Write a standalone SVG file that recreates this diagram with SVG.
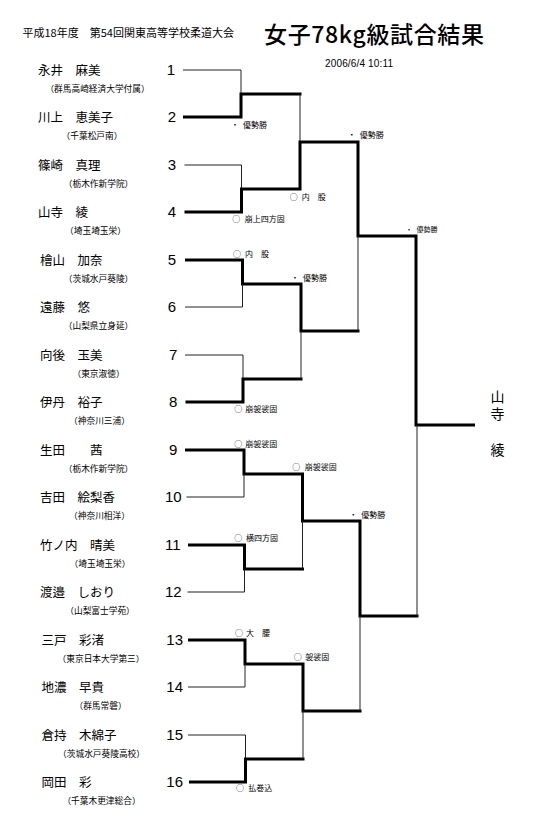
<svg xmlns="http://www.w3.org/2000/svg" width="534" height="829" viewBox="0 0 534 829">
<style>
.j{font-family:"Noto Sans CJK JP","Noto Sans CJK SC",sans-serif;fill:#000}
.nm{font-size:12.5px}
.sc{font-size:8.7px;text-anchor:middle}
.num{font-family:"Liberation Sans",Arial,sans-serif;font-size:15px;fill:#000}
.lb{font-size:8px}
.thin{fill:none;stroke:#222;stroke-width:1}
.thick{fill:none;stroke:#000;stroke-width:3;stroke-linecap:square;stroke-linejoin:miter}
</style>
<rect width="534" height="829" fill="#fff"/>
<g id="header">
<text class="j" x="22.5" y="37" font-size="11">平成18年度　第54回関東高等学校柔道大会</text>
<text class="j" x="264" y="42.5" font-size="23" font-weight="500" textLength="220" lengthAdjust="spacing">女子78kg級試合結果</text>
<text x="325" y="67" font-family="Liberation Sans,Arial,sans-serif" font-size="10" textLength="68" lengthAdjust="spacing">2006/6/4 10:11</text>
</g>
<g id="connectors">
<path class="thin" d="M183 70H241V94"/>
<path class="thick" d="M184.5 117H241V94H300"/>
<path class="thin" d="M300 94V142"/>
<path class="thin" d="M184.5 165H241.5V189"/>
<path class="thick" d="M186 212H241.5V189H300V142H358V236H416V425H473.5"/>
<path class="thick" d="M186.5 260H242.5V284H301V331H358"/>
<path class="thin" d="M358 331V236"/>
<path class="thin" d="M185 307H242.5V284"/>
<path class="thin" d="M185 355H243V379"/>
<path class="thick" d="M187 402H243V379H301"/>
<path class="thin" d="M301 379V331"/>
<path class="thick" d="M186.5 450H244V474H302.5V521H360V616H417"/>
<path class="thin" d="M417 616V425"/>
<path class="thin" d="M186.5 497H244V474"/>
<path class="thick" d="M189.5 545H244.5V569H302.5"/>
<path class="thin" d="M302.5 569V521"/>
<path class="thin" d="M187.5 592H244.5V569"/>
<path class="thick" d="M189.5 640H245V664H303V711H360"/>
<path class="thin" d="M360 711V616"/>
<path class="thin" d="M188 687H245V664"/>
<path class="thin" d="M188 735H245.5V759"/>
<path class="thick" d="M190.5 782H245.5V759H303"/>
<path class="thin" d="M303 759V711"/>
</g>
<g id="labels" class="j lb">
<text x="231" y="128">・<tspan dx="4">優勢勝</tspan></text>
<text x="232.3" y="222.3">○<tspan dx="4.5">崩上四方固</tspan></text>
<text x="233" y="257">○<tspan dx="4">内　股</tspan></text>
<text x="234.3" y="412.3">○<tspan dx="3">崩袈裟固</tspan></text>
<text x="234.3" y="447">○<tspan dx="3">崩袈裟固</tspan></text>
<text x="234.3" y="541.3">○<tspan dx="3.7">横四方固</tspan></text>
<text x="235" y="636.3">○<tspan dx="3">大　腰</tspan></text>
<text x="236" y="791.3">○<tspan dx="4.3">払巻込</tspan></text>
<text x="289.7" y="200">○<tspan dx="4">内　股</tspan></text>
<text x="291" y="281.3">・<tspan dx="4">優勢勝</tspan></text>
<text x="292.3" y="469.7">○<tspan dx="4.5">崩袈裟固</tspan></text>
<text x="293.7" y="659.7">○<tspan dx="3.5">袈裟固</tspan></text>
<text x="347.7" y="138">・<tspan dx="4">優勢勝</tspan></text>
<text x="349.3" y="518">・<tspan dx="4">優勢勝</tspan></text>
<text x="405.5" y="232" font-size="7">・<tspan dx="4">優勢勝</tspan></text>
</g>
<g id="winner" class="j" font-size="14">
<text x="497.5" y="390" writing-mode="vertical-rl" letter-spacing="2.7">山寺</text>
<text x="497.5" y="455.3" text-anchor="middle">綾</text>
</g>
<g id="p1"><text class="j nm" x="38" y="74.8">永井　麻美</text><text class="j sc" x="97.5" y="92">（群馬高崎経済大学付属）</text><text class="num" x="166.7" y="75.4">1</text></g>
<g id="p2"><text class="j nm" x="38" y="121.8">川上　恵美子</text><text class="j sc" x="92" y="139">（千葉松戸南）</text><text class="num" x="167.7" y="122.4">2</text></g>
<g id="p3"><text class="j nm" x="38" y="169.8">篠崎　真理</text><text class="j sc" x="98.5" y="187">（栃木作新学院）</text><text class="num" x="167.7" y="170.4">3</text></g>
<g id="p4"><text class="j nm" x="38" y="216.8">山寺　綾</text><text class="j sc" x="95.5" y="234">（埼玉埼玉栄）</text><text class="num" x="167.7" y="217.4">4</text></g>
<g id="p5"><text class="j nm" x="40" y="264.8">檜山　加奈</text><text class="j sc" x="98.5" y="282">（茨城水戸葵陵）</text><text class="num" x="167.7" y="265.4">5</text></g>
<g id="p6"><text class="j nm" x="40" y="311.8">遠藤　悠</text><text class="j sc" x="98.5" y="329">（山梨県立身延）</text><text class="num" x="167.7" y="312.4">6</text></g>
<g id="p7"><text class="j nm" x="40" y="359.8">向後　玉美</text><text class="j sc" x="98.5" y="377">（東京淑徳）</text><text class="num" x="169" y="360.4">7</text></g>
<g id="p8"><text class="j nm" x="40" y="406.8">伊丹　裕子</text><text class="j sc" x="99.5" y="424">（神奈川三浦）</text><text class="num" x="169" y="407.4">8</text></g>
<g id="p9"><text class="j nm" x="40" y="454.8">生田　　茜</text><text class="j sc" x="98.5" y="472">（栃木作新学院）</text><text class="num" x="169" y="455.4">9</text></g>
<g id="p10"><text class="j nm" x="40" y="501.8">吉田　絵梨香</text><text class="j sc" x="99.5" y="519">（神奈川相洋）</text><text class="num" x="165" y="502.4">10</text></g>
<g id="p11"><text class="j nm" x="40" y="549.8">竹ノ内　晴美</text><text class="j sc" x="100" y="567">（埼玉埼玉栄）</text><text class="num" x="165" y="550.4">11</text></g>
<g id="p12"><text class="j nm" x="40" y="596.8">渡邉　しおり</text><text class="j sc" x="100" y="614">（山梨富士学苑）</text><text class="num" x="165" y="597.4">12</text></g>
<g id="p13"><text class="j nm" x="41.5" y="644.8">三戸　彩渚</text><text class="j sc" x="101" y="662">（東京日本大学第三）</text><text class="num" x="166.3" y="645.4">13</text></g>
<g id="p14"><text class="j nm" x="41.5" y="691.8">地濃　早貴</text><text class="j sc" x="100.5" y="709">（群馬常磐）</text><text class="num" x="166.3" y="692.4">14</text></g>
<g id="p15"><text class="j nm" x="41.5" y="739.8">倉持　木綿子</text><text class="j sc" x="101.5" y="757">（茨城水戸葵陵高校）</text><text class="num" x="166.3" y="740.4">15</text></g>
<g id="p16"><text class="j nm" x="41.5" y="786.8">岡田　彩</text><text class="j sc" x="101.5" y="804">（千葉木更津総合）</text><text class="num" x="166.3" y="787.4">16</text></g>
</svg>
